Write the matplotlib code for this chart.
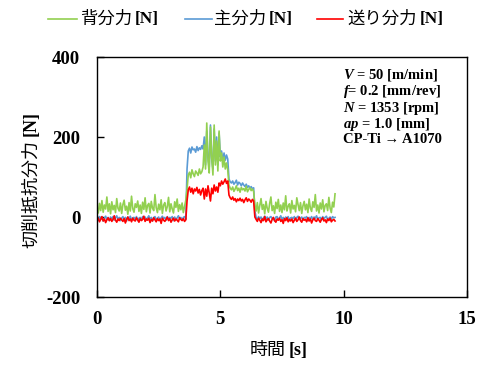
import numpy as np
import matplotlib
matplotlib.use('Agg')
import matplotlib.pyplot as plt
from matplotlib.lines import Line2D

# ---------------- data ----------------
sample_interval = 0.05  # s

thrust_force = [  # 背分力 [N]
    24, 10, 34, 16, 41, 12, 30, 20, 50, 14, 33, 8, 38, 18, 29, 11, 46, 22, 15, 35,
    9, 31, 42, 17, 27, 7, 36, 15, 52, 21, 12, 33, 24, 40, 14, 30, 9, 37, 19, 48,
    13, 29, 34, 10, 39, 22, 16, 56, 23, 11, 32, 18, 43, 9, 30, 36, 15, 26, 49, 13,
    33, 20, 10, 38, 24, 45, 14, 31, 18, 35, 11, 27, 42,
    70,
    105, 112, 98, 118, 108, 101, 115, 110, 104, 120, 108, 113, 125,
    180, 120, 235, 140, 110, 225, 150, 105, 230, 130, 190, 115, 215, 140, 160, 125, 150, 120, 135, 118,
    80, 72, 68, 75, 64, 70, 78, 66, 72, 62, 74, 68, 71, 65, 77, 63, 69, 73, 66, 70, 64,
    30,
    15, 36, 10, 29, 46, 19, 31, 8, 39, 22, 12, 34, 50, 16, 28, 9, 37, 21, 44, 14,
    30, 11, 35, 18, 53, 15, 27, 33, 10, 41, 20, 29, 13, 48, 31, 16, 36, 9, 28, 39,
    18, 32, 11, 45, 22, 14, 38, 24, 56, 15, 30, 10, 35, 20, 43, 13, 29, 33, 16, 49,
    22, 11, 37, 25, 58,
]

principal_force = [  # 主分力 [N]
    -2, -8, 1, -6, 0, -10, -3, 2, -7, -1, -9, 0, -4, 1, -8, -2, 3, -6, -1, -9,
    -3, 1, -7, -1, -10, 0, -4, 2, -8, -2, -1, -6, 1, -9, -3, -1, -7, 1, -4, 0,
    -8, -2, 3, -6, -1, -10, -1, 1, -7, -3, 0, -9, -2, 2, -4, -1, -8, 1, -6, -1,
    -3, 1, -9, 0, -7, -2, 3, -4, -1, -8, -1, 1, -6,
    120,
    165, 172, 160, 175, 168, 170, 162, 176, 166, 173, 169, 178, 170,
    200, 130, 215, 150, 125, 230, 145, 120, 220, 140, 200, 130, 210, 150, 165, 138, 160, 142, 155, 145,
    95, 88, 85, 90, 82, 86, 92, 80, 87, 84, 78, 85, 80, 76, 82, 74, 78, 72, 76, 70, 73,
    15,
    -1, -7, 1, -4, 0, -9, -2, 2, -6, 0, -8, -1, 1, -4, -3, -10, 0, 1, -7, -2,
    3, -6, -1, -8, 0, -3, 1, -9, -2, -1, -4, 1, -7, -1, 2, -6, -3, 0, -8, -1,
    -2, 1, -9, -1, -4, 1, -7, 0, -3, 3, -6, -2, -1, -8, 1, -4, -1, 2, -7, -3,
    0, -6, 1, -2, -1,
]

feed_force = [  # 送り分力 [N]
    -8, -3, -12, -6, 1, -10, -5, -14, -7, -2, -9, -4, -11, -6, 3, -8, -13, -5, -9, -3,
    -7, -11, -4, -15, -6, 0, -9, -5, -12, -3, -8, -10, -2, -7, -13, -4, -9, -6, 2, -11,
    -5, -8, -3, -14, -6, -10, -2, -7, -12, -4, -9, -5, -16, -3, -8, -11, -6, 0, -9, -4,
    -13, -7, -3, -10, -5, -8, -12, -2, -6, -9, -4, -11, -7,
    40,
    68, 75, 62, 72, 58, 70, 65, 74, 60, 69, 55, 66, 72,
    45, 70, 52, 78, 60, 40, 72, 58, 80, 65, 75, 62, 85, 78, 90, 82, 88, 95, 84, 90,
    55, 48, 44, 50, 42, 46, 38, 45, 41, 47, 40, 44, 36, 43, 48, 39, 45, 42, 37, 44, 40,
    0,
    -6, -11, -3, -8, -14, -5, -9, 1, -12, -7, -4, -10, -15, -6, -1, -9, -13, -5, -8, -3,
    -11, -7, -16, -4, -9, -2, -12, -6, -10, -5, -14, -8, -3, -11, -7, 0, -9, -13, -4, -8,
    -6, -12, -2, -10, -5, -15, -7, -3, -9, -11, -4, -8, -13, -6, -2, -10, -7, -14, -5, -9,
    -3, -12, -8, -6, -10,
]

series_names = ["背分力", "主分力", "送り分力"]
x_ticks = [0, 5, 10, 15]
y_ticks = [-200, 0, 200, 400]
conditions = ["$V$ = 50 [m/min]", "$f$= 0.2 [mm/rev]", "$N$ = 1353 [rpm]",
              "$ap$ = 1.0 [mm]", "CP-Ti → A1070"]

# ---------------- style ----------------
GREEN = "#92D050"
BLUE = "#5B9BD5"
RED = "#FF0000"
JP = ["Noto Sans CJK JP", "DejaVu Sans"]
SERIF = ["Liberation Serif", "DejaVu Serif"]

plt.rcParams['mathtext.fontset'] = 'custom'
plt.rcParams['mathtext.it'] = 'Liberation Serif:italic:bold'
plt.rcParams['mathtext.rm'] = 'Liberation Serif:bold'
plt.rcParams['mathtext.bf'] = 'Liberation Serif:bold'

W, H = 491, 378
fig = plt.figure(figsize=(W / 100, H / 100), dpi=100)
ax = fig.add_axes([97 / W, 1 - 297 / H, 370 / W, 240 / H])

time = np.arange(len(thrust_force)) * sample_interval
ax.plot(time, principal_force, color=BLUE, lw=1.2)
ax.plot(time, thrust_force, color=GREEN, lw=1.2)
ax.plot(time, feed_force, color=RED, lw=1.2)

ax.set_xlim(0, 15)
ax.set_ylim(-200, 400)
ax.set_xticks(x_ticks)
ax.set_yticks(y_ticks)
ax.set_xticklabels([str(v) for v in x_ticks], family=SERIF, fontweight='bold', fontsize=13.5)
ax.set_yticklabels([str(v) for v in y_ticks], family=SERIF, fontweight='bold', fontsize=13.5)
ax.tick_params(axis='both', direction='in', length=5, width=1, color='black')
ax.tick_params(axis='y', pad=12)
ax.tick_params(axis='x', pad=10)
for s in ax.spines.values():
    s.set_linewidth(1)
    s.set_color('black')

# axis labels (mixed fonts)
xl = fig.text(250 / W, 1 - 350 / H, "時間", family=JP, fontsize=13, ha='left', va='center')
ax.annotate("[s]", xy=(1, 0.5), xycoords=xl, xytext=(3, 0), textcoords='offset pixels',
            family=SERIF, fontweight='bold', fontsize=13, ha='left', va='center')

yl = fig.text(31 / W, 1 - 194 / H, "切削抵抗分力", family=JP, fontsize=13, rotation=90,
              ha='center', va='center')
ax.annotate("[N]", xy=(0.5, 1), xycoords=yl, xytext=(0, 4), textcoords='offset pixels',
            family=SERIF, fontweight='bold', fontsize=13, rotation=90, ha='center', va='bottom')

# legend (manual)
leg_y = 1 - 19 / H
for (x0, x1, xt), name, col in zip([(48, 77, 80), (185, 212, 214), (317, 343, 347)],
                                   series_names, [GREEN, BLUE, RED]):
    fig.add_artist(Line2D([x0 / W, x1 / W], [leg_y, leg_y], color=col, lw=1.2,
                          transform=fig.transFigure))
    t = fig.text(xt / W, leg_y, name, family=JP, fontsize=12.5, ha='left', va='center')
    ax.annotate("[N]", xy=(1, 0.5), xycoords=t, xytext=(3, 0), textcoords='offset pixels',
                family=SERIF, fontweight='bold', fontsize=12.5, ha='left', va='center')

# condition box (one multi-line text)
fig.text(343 / W, 1 - 67 / H, "\n".join(conditions), family=SERIF, fontweight='bold',
         fontsize=10.5, ha='left', va='top', linespacing=0.98)

fig.savefig("out.png", dpi=100)
